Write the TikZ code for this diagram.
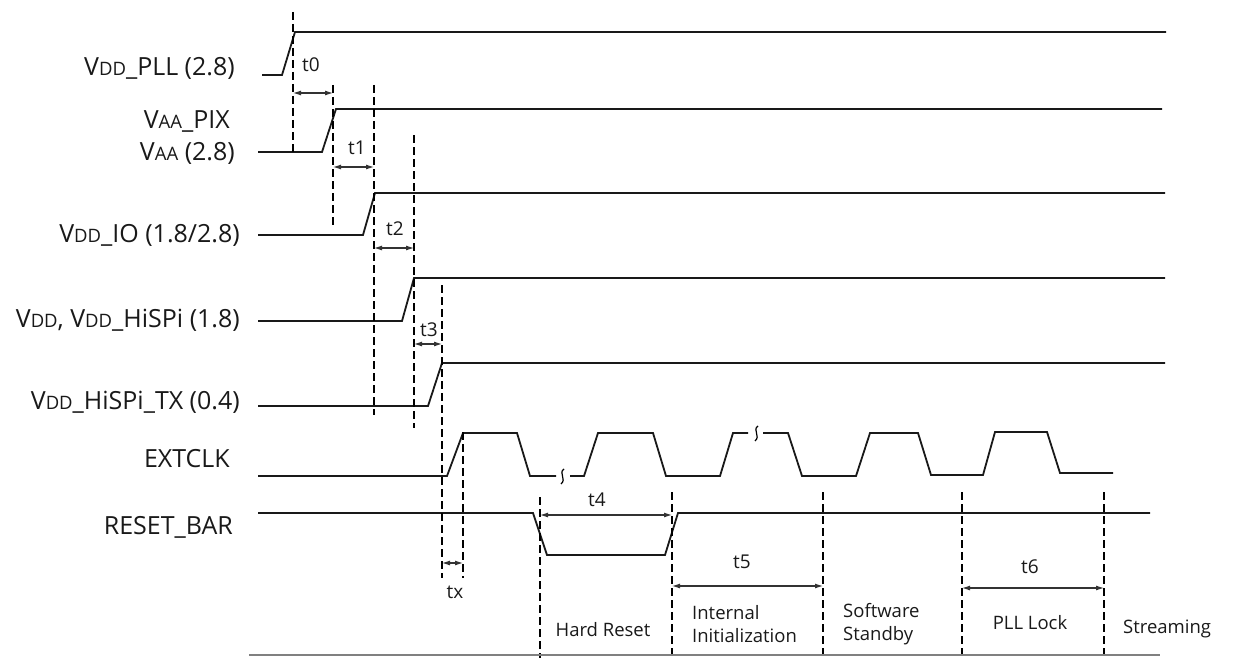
\documentclass[tikz,border=0pt]{standalone}
\usepackage{fontspec}
\setmainfont{Open Sans}
\usetikzlibrary{arrows.meta}
\newcommand{\vsub}[1]{{\fontsize{18.5}{18.5}\selectfont #1}}
\begin{document}
\begin{tikzpicture}[x=1pt,y=-1pt,
  wave/.style={line width=1.8pt, line join=miter, draw=black!90},
  guide/.style={line width=2.6pt, dash pattern=on 8pt off 4pt},
  dim/.style={line width=1.1pt, draw=black!80, {Latex[length=8pt,width=5pt]}-{Latex[length=8pt,width=5pt]}},
  brk/.style={line width=1.2pt},
  sig/.style={anchor=east, font=\fontsize{25}{25}\selectfont, text=black!90, inner sep=0pt},
  tl/.style={font=\fontsize{19}{19}\selectfont, inner sep=0pt, text=black!90},
  phase/.style={font=\fontsize{18.5}{23}\selectfont, inner sep=0pt, align=left, text=black!90}]
\useasboundingbox (0,0) rectangle (1238,658);

% signal labels
\node[sig] (lpll) at (235,68) {V\vsub{DD}\_PLL (2.8)};
\node[sig] (lpix) at (230,121) {V\vsub{AA}\_PIX};
\node[sig] (lvaa) at (235,153) {V\vsub{AA} (2.8)};
\node[sig] (lio) at (240,235) {V\vsub{DD}\_IO (1.8/2.8)};
\node[sig] (lvdd) at (240,320) {V\vsub{DD}, V\vsub{DD}\_HiSPi (1.8)};
\node[sig] (ltx) at (240,402) {V\vsub{DD}\_HiSPi\_TX (0.4)};
\node[sig] (lclk) at (230,459) {EXTCLK};
\node[sig] (lrst) at (233,527) {RESET\_BAR};

% waveforms
\draw[wave] (262,75) -- (282,75) -- (295,32) -- (1166,32);
\draw[wave] (258,152) -- (322,152) -- (336,109) -- (1162,109);
\draw[wave] (258,235) -- (363,235) -- (375,193) -- (1165,193);
\draw[wave] (258,321) -- (402,321) -- (414,278) -- (1165,278);
\draw[wave] (258,406) -- (428,406) -- (442,363) -- (1165,363);
\draw[wave] (258,476) -- (447,476) -- (463,433) -- (517,433) -- (530,476) -- (556,476);
\draw[brk] (564,469) .. controls (558,473) and (567,479) .. (561,484);
\draw[wave] (570,476) -- (584,476) -- (598,433) -- (653,433) -- (666,476) -- (720,476) -- (733,433) -- (748,433);
\draw[brk] (758,426) .. controls (752,430) and (761,436) .. (755,441);
\draw[wave] (763,433) -- (788,433) -- (802,476) -- (856,476) -- (870,433) -- (918,433) -- (931,475) -- (983,475) -- (995,432) -- (1047,432) -- (1060,473) -- (1113,473);
\draw[wave] (258,513) -- (533,513) -- (547,555) -- (665,555) -- (678,513) -- (1150,513);

% guide lines
\draw[guide] (293,12) -- (293,152);
\draw[guide] (333,85) -- (333,225);
\draw[guide] (374,85) -- (374,415);
\draw[guide] (414,135) -- (414,428);
\draw[guide] (442,285) -- (442,578);
\draw[guide] (463,432) -- (463,578);
\draw[guide] (540,497) -- (540,658);
\draw[guide] (672,492) -- (672,655);
\draw[guide] (823,492) -- (823,655);
\draw[guide] (962,492) -- (962,655);
\draw[guide] (1104,492) -- (1104,655);

% dimension arrows
\draw[dim] (293,93) -- (333,93);
\node[tl] (t0) at (311,65) {t0};
\draw[dim] (333,167) -- (374,167);
\node[tl] (t1) at (357,148) {t1};
\draw[dim] (374,248) -- (414,248);
\node[tl] (t2) at (395,229) {t2};
\draw[dim] (414,344) -- (442,344);
\node[tl] (t3) at (429,330) {t3};
\draw[dim] (442,563) -- (463,563);
\node[tl] (tx) at (455,592) {tx};
\draw[dim] (540,515) -- (672,515);
\node[tl] (t4) at (597,500) {t4};
\draw[dim] (672,586) -- (823,586);
\node[tl] (t5) at (742,562) {t5};
\draw[dim] (962,588) -- (1104,588);
\node[tl] (t6) at (1030,567) {t6};

% phase labels
\node[phase] (hr) at (603,630) {Hard Reset};
\node[phase, anchor=west] (ii) at (692,624) {Internal\\Initialization};
\node[phase, anchor=west] (ss) at (843,624) {Software\\Standby};
\node[phase] (pll) at (1030,623) {PLL Lock};
\node[phase, anchor=west] (st) at (1123,629) {Streaming};

\draw[line width=1.8pt, draw=black!50] (249,655) -- (1160,655);
\end{tikzpicture}
\end{document}
